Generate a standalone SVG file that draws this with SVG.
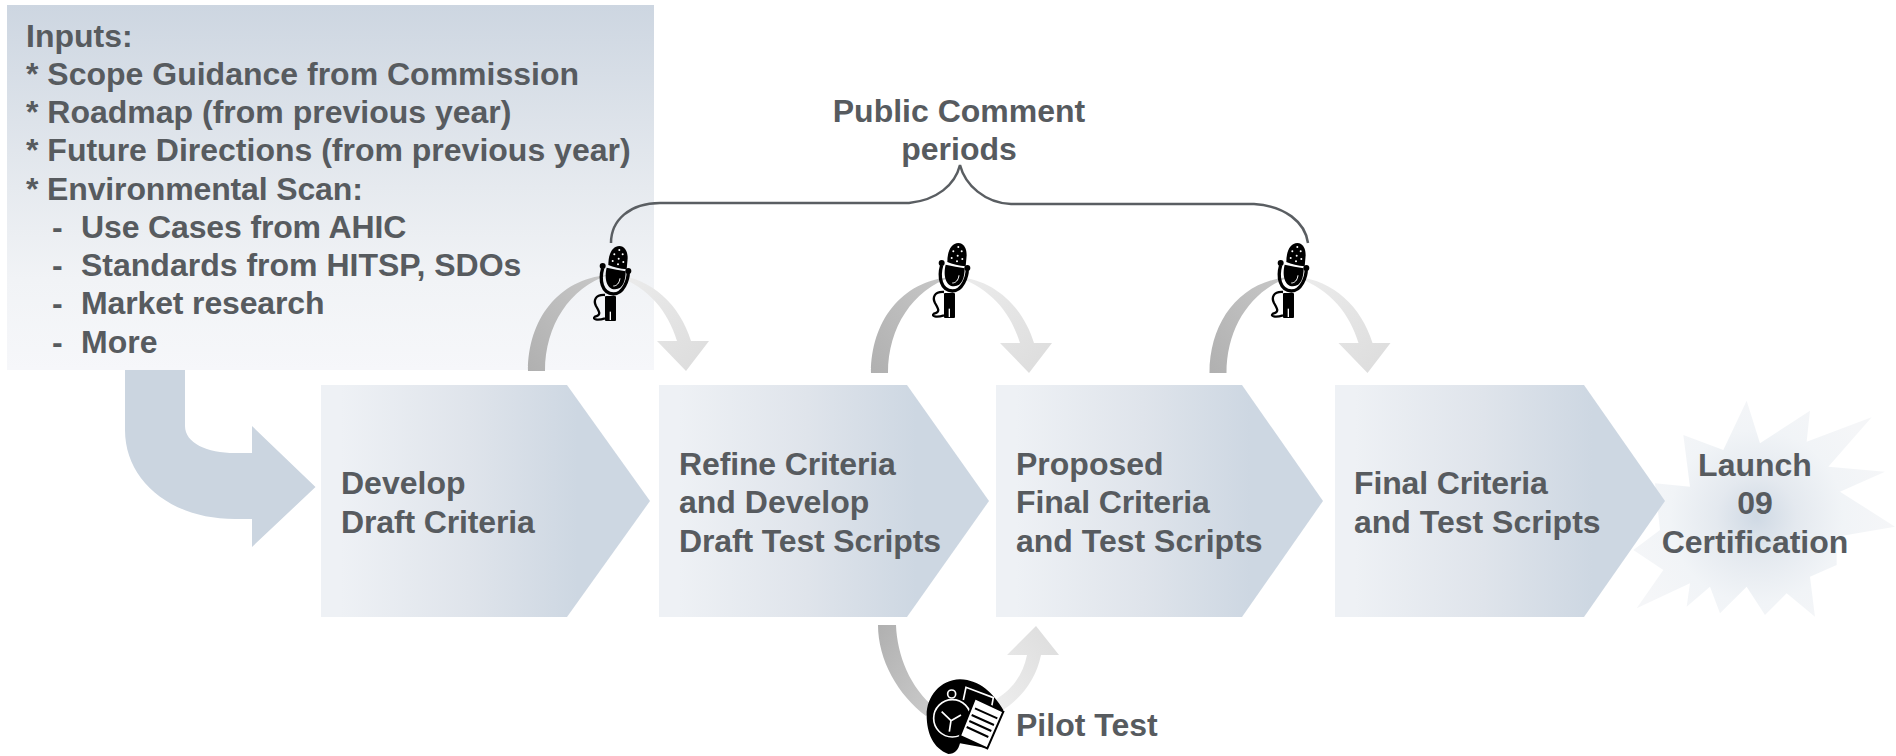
<svg xmlns="http://www.w3.org/2000/svg" width="1896" height="756" viewBox="0 0 1896 756">
<style>
text{font-family:"Liberation Sans",Arial,sans-serif;font-weight:700;font-size:32px;fill:#575b5f;white-space:pre}
.c{text-anchor:middle}
.k{letter-spacing:-.14px}
.chev{fill:url(#chevGrad)}
.brace{fill:none;stroke:#5a5e62;stroke-width:2.5}
</style>
<defs>
<linearGradient id="panelGrad" x1="0" y1="0" x2="0" y2="1"><stop offset="0" stop-color="#cdd6e1"/><stop offset="0.5" stop-color="#e6eaef"/><stop offset="0.75" stop-color="#f1f3f6"/><stop offset="1" stop-color="#f6f7fa"/></linearGradient>
<linearGradient id="chevGrad" x1="0" y1="0" x2="1" y2="0"><stop offset="0.06" stop-color="#eef1f5"/><stop offset="0.45" stop-color="#dfe4eb"/><stop offset="0.78" stop-color="#cdd7e2"/></linearGradient>
<linearGradient id="arcL" x1="0" y1="1" x2="1" y2="0"><stop offset="0" stop-color="#b0b0b0"/><stop offset="1" stop-color="#c8c8c8"/></linearGradient>
<linearGradient id="arcR" x1="0" y1="0" x2="1" y2="1"><stop offset="0" stop-color="#ececec"/><stop offset="1" stop-color="#dcdcdc"/></linearGradient>
<linearGradient id="pilotL" x1="0" y1="0" x2="1" y2="1"><stop offset="0" stop-color="#b0b0b0"/><stop offset="1" stop-color="#cbcbcb"/></linearGradient>
<linearGradient id="pilotR" x1="0" y1="1" x2="1" y2="0"><stop offset="0" stop-color="#eeeeee"/><stop offset="1" stop-color="#dcdcdc"/></linearGradient>
<radialGradient id="starGrad" gradientUnits="userSpaceOnUse" cx="530" cy="410" r="400"><stop offset="0" stop-color="#cfd9e4"/><stop offset="0.3" stop-color="#e4e9ef"/><stop offset="0.65" stop-color="#f1f4f7"/><stop offset="1" stop-color="#f5f6f8"/></radialGradient>
<g id="arcPair">
<path fill="url(#arcL)" d="M528,371C528,320 558,279 608,275C570,288 545,325 545,371Z"/>
<path fill="url(#arcR)" d="M615,275C652,278 680,305 691,341L709,341L686,371L657,341L677,341C668,312 650,288 615,275Z"/>
</g>
<g id="mic" transform="scale(0.3333)">
<path fill="#000" d="M145,195C145,160 158,138 178,138C195,138 203,155 203,175L200,208C180,206 160,201 145,195Z"/>
<g fill="#fff"><circle cx="178" cy="150" r="3"/><circle cx="163" cy="163" r="3"/><circle cx="188" cy="163" r="3"/><circle cx="176" cy="176" r="3"/><circle cx="158" cy="183" r="3"/><circle cx="190" cy="186" r="3"/><circle cx="174" cy="193" r="3"/></g>
<path fill="#000" d="M140,203C160,207 180,211 197,214C197,240 190,268 165,268C140,268 132,235 140,203Z"/>
<path fill="none" stroke="#000" stroke-width="10" d="M128,205C118,240 125,280 160,282C190,282 205,240 205,215"/>
<circle cx="128" cy="198" r="9"/><circle cx="205" cy="213" r="9"/>
<path fill="none" stroke="#fff" stroke-width="3" d="M180,235C178,250 170,258 160,258"/>
<rect x="135" y="288" width="33" height="75" rx="3"/>
<rect x="149" y="335" width="4" height="25" fill="#fff"/>
<path fill="none" stroke="#000" stroke-width="7" d="M135,285C105,283 100,302 108,318C118,335 125,345 105,350C95,358 112,362 135,355"/>
</g>
</defs>

<g id="connectors">
<path id="input-arrow" fill="#cbd5e0" d="M125,370L185,370L185,426C185,443 207,453 235,453L252,453L252,426L315.500,487L252,547L252,519L235,519C170,519 125,480 125,430Z"/>
<use href="#arcPair" x="343" y="2"/>
<use href="#arcPair" x="681.500" y="2"/>
<path id="pilot-left" fill="url(#pilotL)" d="M878,625L896,625C897,655 910,688 935,708L926,716C898,695 878,660 878,625Z"/>
<path id="pilot-right" fill="url(#pilotR)" d="M995,700C1012,690 1023,675 1027,655L1007,655L1036,626L1059,655L1041,655C1036,680 1020,700 1000,712Z"/>
</g>

<g id="inputs">
<rect x="7" y="5" width="647" height="365" fill="url(#panelGrad)"/>
<text x="26" y="47">Inputs:</text>
<text x="26" y="85">* Scope Guidance from Commission</text>
<text x="26" y="123">* Roadmap (from previous year)</text>
<text x="26" y="161">* Future Directions (from previous year)</text>
<text class="k" x="26" y="200">* Environmental Scan:</text>
<text x="52" y="238">-</text><text class="k" x="81" y="238">Use Cases from AHIC</text>
<text x="52" y="276">-</text><text x="81" y="276">Standards from HITSP, SDOs</text>
<text x="52" y="314">-</text><text class="k" x="81" y="314">Market research</text>
<text x="52" y="353">-</text><text x="81" y="353">More</text>
</g>
<use href="#arcPair"/>
<path id="brace" class="brace" d="M611,243C611,220 630,203 660,203L909,203C937,200 955,185 960,165C965,185 985,203 1011,204L1254,204C1285,206 1305,222 1308,243"/>

<g id="launch">
<path fill="url(#starGrad)" transform="translate(1580,380) scale(.3333)" d="M500,62L540,190L690,92L680,185L875,112L745,260L915,275L780,335L945,440L770,470L770,555L690,590L705,710L620,640L555,705L500,620L420,700L390,620L320,680L330,610L170,685L250,570L160,510L240,450L225,310L330,320L310,165L430,210Z"/>
</g>
<g id="step-develop">
<path class="chev" d="M321,385H567L650,501L567,617H321Z"/>
<text x="341" y="494">Develop</text><text class="k" x="341" y="533">Draft Criteria</text>
</g>
<g id="step-refine">
<path class="chev" d="M659,385H907L989,501L907,617H659Z"/>
<text class="k" x="679" y="475">Refine Criteria</text><text x="679" y="513">and Develop</text><text class="k" x="679" y="552">Draft Test Scripts</text>
</g>
<g id="step-proposed">
<path class="chev" d="M996,385H1242L1323,501L1242,617H996Z"/>
<text x="1016" y="475">Proposed</text><text class="k" x="1016" y="513">Final Criteria</text><text x="1016" y="552">and Test Scripts</text>
</g>
<g id="step-final">
<path class="chev" d="M1335,385H1584L1665,501L1584,617H1335Z"/>
<text class="k" x="1354" y="494">Final Criteria</text><text x="1354" y="533">and Test Scripts</text>
</g>
<g id="launch-label">
<text class="c" x="1755" y="476">Launch</text><text class="c" x="1755" y="514">09</text><text class="c" x="1755" y="553">Certification</text>
</g>
<g id="public-comment">
<text class="c" x="959" y="122">Public Comment</text><text class="c" x="959" y="160">periods</text>
</g>
<g id="mic-1"><use href="#mic" x="560" y="200"/></g>
<g id="mic-2"><use href="#mic" x="899" y="197"/></g>
<g id="mic-3"><use href="#mic" x="1238" y="197"/></g>
<g id="pilot-test">
<g transform="translate(860,600) scale(.3333)">
<path d="M200,345C200,290 240,240 300,238C360,240 400,280 430,330L382,445L300,430C295,450 285,462 265,462C220,445 200,400 200,345Z"/>
<path fill="none" stroke="#fff" stroke-width="5" d="M310,300L318,262L400,293L395,320"/>
<circle cx="277" cy="355" r="56" fill="none" stroke="#fff" stroke-width="5"/>
<circle cx="275" cy="282" r="12" fill="none" stroke="#fff" stroke-width="5"/>
<path fill="none" stroke="#fff" stroke-width="5" d="M245,335L273,362L268,395M273,362L303,345"/>
<path fill="#fff" stroke="#000" stroke-width="6" d="M345,295L430,335L382,445L300,408Z"/>
<path stroke="#000" stroke-width="6" d="M345,325L412,355M335,345L402,375M328,363L394,393M320,381L385,411"/>
</g>
<text x="1016" y="736">Pilot Test</text>
</g>
</svg>
